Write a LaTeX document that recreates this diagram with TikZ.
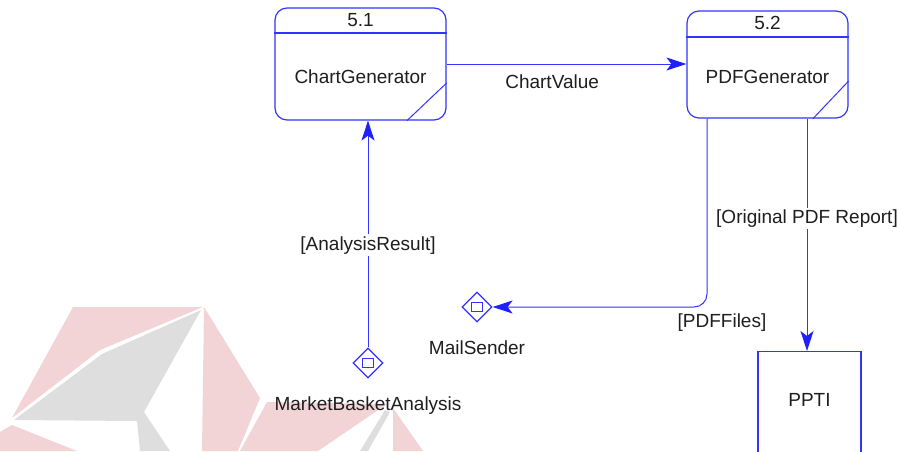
\documentclass[tikz,border=0pt]{standalone}
\usepackage{fontspec}
\setmainfont{Liberation Sans}
\usetikzlibrary{arrows.meta,shapes.geometric}

\definecolor{flowblue}{RGB}{51,51,255}
\definecolor{tipblue}{RGB}{32,32,255}
\definecolor{txtgray}{RGB}{30,30,30}
\definecolor{logopink}{RGB}{242,211,214}
\definecolor{logogray}{RGB}{222,222,222}

\begin{document}
\begin{tikzpicture}[x=0.5pt, y=-0.5pt,
    >={Stealth[length=10pt,width=6.5pt,inset=2.5pt,color=tipblue]},
    font=\fontsize{9.5}{11}\selectfont, text=txtgray,
    process/.style={draw=flowblue, line width=0.6pt, rounded corners=6pt, inner sep=0pt},
    store/.style={draw=flowblue, line width=0.6pt, diamond, minimum size=15pt, inner sep=0pt,
      path picture={\draw[flowblue, line width=0.5pt]
        ([xshift=-2.75pt,yshift=-2.25pt]path picture bounding box.center) rectangle ++(5.5pt,4.5pt);}},
    entity/.style={draw=flowblue, line width=0.6pt, inner sep=0pt, minimum width=51.5pt, minimum height=60pt},
    flow/.style={draw=flowblue, line width=0.5pt, ->},
    lbl/.style={fill=white, inner sep=1pt}]

  \clip (0,0) rectangle (899,451);

  % faded logo behind the diagram
  \fill[logopink] (73,307) -- (203,307) -- (100,350) -- (12,418) -- cycle;
  \fill[logogray] (14,420) -- (102,354) -- (201,310) -- (144,412) -- (170,451) -- (140,451) -- (137,421) -- cycle;
  \fill[logopink] (12,425) -- (77,451) -- (0,451) -- (0,432) -- cycle;
  \fill[logopink] (204,307) -- (260,398) -- (238,451) -- (202,451) -- cycle;
  \fill[logopink] (267,402) -- (387,404) -- (318,451) -- (240,451) -- cycle;
  \fill[logogray] (385,410) -- (390,412) -- (368,451) -- (360,451) -- cycle;
  \fill[logopink] (393,408) -- (423,451) -- (393,451) -- cycle;

  % processes
  \node[process, minimum width=85.5pt, minimum height=56pt] (cg) at (360.5,64) {};
  \draw[flowblue, line width=0.6pt] (cg.west |- 0,33) -- (cg.east |- 0,33);
  \draw[flowblue, line width=0.5pt] (cg.east |- 0,83) -- (407,0 |- cg.south);
  \node (cgnum) at (360.5,20) {5.1};
  \node (cgname) at (360.5,77) {ChartGenerator};

  \node[process, minimum width=80.5pt, minimum height=53.5pt] (pg) at (767.5,64.5) {};
  \draw[flowblue, line width=0.6pt] (pg.west |- 0,37) -- (pg.east |- 0,37);
  \draw[flowblue, line width=0.5pt] (pg.east |- 0,81) -- (813,0 |- pg.south);
  \node (pgnum) at (767.5,23) {5.2};
  \node (pgname) at (767.5,77) {PDFGenerator};

  % stores and entity
  \node[store] (mba) at (368,363) {};
  \node (mbaname) at (368,406) {MarketBasketAnalysis};
  \node[store] (ms) at (477,307) {};
  \node (msname) at (477,348) {MailSender};
  \node[entity, anchor=north] (ppti) at (809.5,351) {};
  \node (pptiname) at (809.5,400) {PPTI};

  % flows
  \draw[flow] (cg.east) -- (pg.west |- cg.east) node[pos=0.44, below=2pt] {ChartValue};
  \draw[flow] (mba.north) -- (mba.north |- cg.south) node[pos=0.45, lbl] {[AnalysisResult]};
  \draw[flow, rounded corners=6.5pt] (707,0 |- pg.south) |- (ms.east)
    node[pos=0.5, below, xshift=7.5pt] {[PDFFiles]};
  \draw[flow] (807,0 |- pg.south) -- (807,0 |- ppti.north) node[pos=0.43, lbl] {[Original PDF Report]};
\end{tikzpicture}
\end{document}
